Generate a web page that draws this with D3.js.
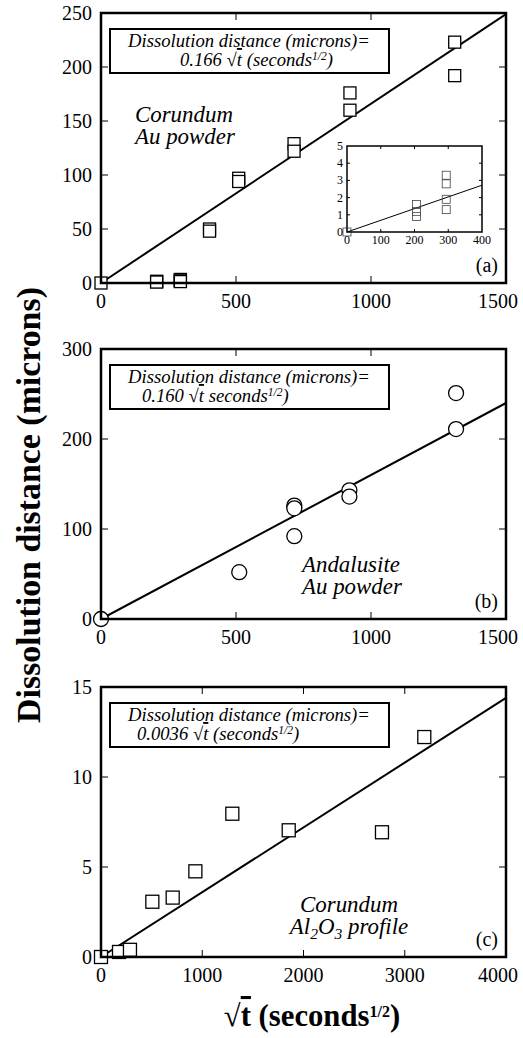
<!DOCTYPE html>
<html>
<head>
<meta charset="utf-8">
<script src="https://cdn.jsdelivr.net/npm/d3@7/dist/d3.min.js"></script>
<style>
  html, body { margin: 0; padding: 0; background: #fff; }
  svg { display: block; }
</style>
</head>
<body>
<svg id="chart" width="523" height="1038"></svg>
<script>
// Panel (a): corundum, Au powder marker
const corundumAuX = [0, 206, 206, 206, 294, 294, 294, 294, 402, 402, 510, 510, 715, 715, 922, 922, 1310, 1310];
const corundumAuY = [0, 1.6, 1.2, 0.9, 3.3, 2.8, 1.9, 1.3, 50, 48, 97, 94, 129, 122, 176, 160, 223, 192];
const corundumAuSlope = 0.166;
const insetSlope = 0.0068;

// Panel (b): andalusite, Au powder marker
const andalusiteX = [0, 512, 716, 716, 716, 920, 920, 1315, 1315];
const andalusiteY = [0, 52, 126, 123, 92, 143, 136, 251, 211];
const andalusiteSlope = 0.160;

// Panel (c): corundum, Al2O3 profile
const corundumAlX = [0, 178, 286, 507, 708, 932, 1297, 1854, 2775, 3193];
const corundumAlY = [0, 0.28, 0.4, 3.07, 3.3, 4.76, 7.96, 7.04, 6.93, 12.22];
const corundumAlSlope = 0.0036;

// Axis ticks
const xTicksAB = [0, 500, 1000, 1500];
const xTicksC = [0, 1000, 2000, 3000, 4000];
const yTicksA = [0, 50, 100, 150, 200, 250];
const yTicksB = [0, 100, 200, 300];
const yTicksC = [0, 5, 10, 15];
const insetXTicks = [0, 100, 200, 300, 400];
const insetYTicks = [0, 1, 2, 3, 4, 5];

// Text
const equationLead = "Dissolution distance (microns)=";
const coefA = "0.166", coefB = "0.160", coefC = "0.0036";
const yTitle = "Dissolution distance (microns)";

const SERIF = '"Liberation Serif", "Times New Roman", serif';
const svg = d3.select("#chart");
const L = 101, R = 506, H = 270;

function addText(parent) {
  return parent.append("text").style("font-family", SERIF).attr("fill", "#000");
}

// scale a text's font size so that it spans the given width
function fitWidth(sel, width) {
  const fs = parseFloat(sel.attr("font-size"));
  const w = sel.node().getComputedTextLength();
  const nfs = fs * width / w;
  sel.attr("font-size", nfs);
  return nfs;
}

function frameTicks(g, x, y, xt, yt, tickLen) {
  const [x0, x1] = x.range();
  const [y0, y1] = y.range();
  const t = g.append("g").attr("stroke", "#000").attr("stroke-width", 1);
  t.append("g").selectAll("line").data(xt.slice(1, -1)).join("line")
    .attr("x1", d => x(d)).attr("x2", d => x(d)).attr("y1", y0).attr("y2", y0 - tickLen);
  t.append("g").selectAll("line").data(xt.slice(1, -1)).join("line")
    .attr("x1", d => x(d)).attr("x2", d => x(d)).attr("y1", y1).attr("y2", y1 + tickLen);
  t.append("g").selectAll("line").data(yt.slice(1, -1)).join("line")
    .attr("x1", x0).attr("x2", x0 + tickLen).attr("y1", d => y(d)).attr("y2", d => y(d));
  t.append("g").selectAll("line").data(yt.slice(1, -1)).join("line")
    .attr("x1", x1).attr("x2", x1 - tickLen).attr("y1", d => y(d)).attr("y2", d => y(d));
}

let labelSize = null;

function panel(opts) {
  const g = svg.append("g");
  const x = d3.scaleLinear().domain(opts.xDomain).range([L, R]);
  const y = d3.scaleLinear().domain(opts.yDomain).range([opts.top + H, opts.top]);

  frameTicks(g, x, y, opts.xTicks, opts.yTicks, 7);

  // tick labels
  const last = opts.xTicks[opts.xTicks.length - 1];
  const xl = g.append("g");
  opts.xTicks.forEach(d => {
    addText(xl).attr("x", d === last ? 518 : x(d)).attr("y", opts.top + H + 25)
      .attr("text-anchor", d === last ? "end" : "middle")
      .attr("font-size", 20).text(d);
  });
  const yl = g.append("g");
  opts.yTicks.forEach(d => {
    addText(yl).attr("x", L - 9).attr("y", y(d) + 7)
      .attr("text-anchor", "end").attr("font-size", 20).text(d);
  });

  // fit line
  const xEnd = opts.xDomain[1];
  g.append("line")
    .attr("x1", x(0)).attr("y1", y(0))
    .attr("x2", x(xEnd)).attr("y2", y(opts.slope * xEnd))
    .attr("stroke", "#000").attr("stroke-width", 2);

  // equation box
  const bx = 110, by = opts.top + 16, bw = 279, bh = 44;
  g.append("rect").attr("x", bx).attr("y", by).attr("width", bw).attr("height", bh)
    .attr("fill", "#fff").attr("stroke", "#000").attr("stroke-width", 2);
  const t1 = addText(g).attr("x", 249).attr("y", by + 18)
    .attr("text-anchor", "middle").attr("font-style", "italic").attr("font-size", 17)
    .text(equationLead);
  const eqSize = fitWidth(t1, 242);
  const t2 = addText(g).attr("x", opts.eqX).attr("y", by + 37)
    .attr("font-style", "italic").attr("font-size", eqSize);
  t2.append("tspan").text(opts.coef + " √");
  t2.append("tspan").style("text-decoration", "overline").text("t");
  t2.append("tspan").text(opts.paren ? " (seconds" : " seconds");
  t2.append("tspan").attr("font-size", eqSize * 0.62).attr("dy", -6).text("1/2");
  t2.append("tspan").attr("dy", 6).text(")");

  // markers
  const pts = d3.zip(opts.xs, opts.ys);
  if (opts.marker === "circle") {
    g.append("g").selectAll("circle").data(pts).join("circle")
      .attr("cx", d => x(d[0])).attr("cy", d => y(d[1])).attr("r", 7.5)
      .attr("fill", "#fff").attr("stroke", "#000").attr("stroke-width", 1.3);
  } else {
    const s = opts.size;
    g.append("g").selectAll("rect").data(pts).join("rect")
      .attr("x", d => x(d[0]) - s / 2).attr("y", d => y(d[1]) - s / 2)
      .attr("width", s).attr("height", s)
      .attr("fill", "#fff").attr("stroke", "#000").attr("stroke-width", 1.3);
  }

  // frame
  g.append("rect").attr("x", L).attr("y", opts.top).attr("width", R - L).attr("height", H)
    .attr("fill", "none").attr("stroke", "#000").attr("stroke-width", 2.5);

  // sample labels, one text per line
  if (labelSize === null) {
    const probe = addText(svg).attr("font-style", "italic").attr("font-size", 20).text("Corundum");
    labelSize = fitWidth(probe, 98);
    probe.remove();
  }
  opts.labels.forEach((ln, i) => {
    const lab = addText(g).attr("font-style", "italic").attr("font-size", labelSize)
      .attr("text-anchor", opts.labelAnchor)
      .attr("x", opts.labelX).attr("y", opts.labelY + i * 22);
    ln.forEach(part => {
      const p = lab.append("tspan").text(part.t);
      if (part.sub) p.attr("font-size", labelSize * 0.68).attr("dy", 5);
      if (part.up) p.attr("dy", -5);
    });
  });

  // panel letter
  addText(g).attr("x", 498).attr("y", opts.top + H - 11)
    .attr("text-anchor", "end").attr("font-size", 20).text(opts.letter);

  return { g, x, y };
}

const pa = panel({
  top: 13, xDomain: [0, 1500], yDomain: [0, 250], xTicks: xTicksAB, yTicks: yTicksA,
  slope: corundumAuSlope, coef: coefA, paren: true, eqX: 180,
  xs: corundumAuX, ys: corundumAuY, marker: "square", size: 12,
  labels: [[{ t: "Corundum" }], [{ t: "Au powder" }]], labelX: 135, labelY: 122, labelAnchor: "start",
  letter: "(a)"
});

// inset of panel (a): the first few hundred root-seconds
(function () {
  const g = pa.g.append("g");
  const ix = d3.scaleLinear().domain([0, 400]).range([347, 482]);
  const iy = d3.scaleLinear().domain([0, 5]).range([232, 146]);
  g.append("rect").attr("x", 347).attr("y", 146).attr("width", 135).attr("height", 86)
    .attr("fill", "#fff").attr("stroke", "none");
  frameTicks(g, ix, iy, insetXTicks, insetYTicks, 3);
  g.append("line").attr("x1", ix(0)).attr("y1", iy(0))
    .attr("x2", ix(400)).attr("y2", iy(insetSlope * 400))
    .attr("stroke", "#000").attr("stroke-width", 1);
  const pts = d3.zip(corundumAuX, corundumAuY).filter(d => d[0] < 400 && d[1] < 5);
  g.append("g").selectAll("rect").data(pts).join("rect")
    .attr("x", d => ix(d[0]) - 4).attr("y", d => iy(d[1]) - 4)
    .attr("width", 8).attr("height", 8)
    .attr("fill", "none").attr("stroke", "#444").attr("stroke-width", 0.8);
  g.append("rect").attr("x", 347).attr("y", 146).attr("width", 135).attr("height", 86)
    .attr("fill", "none").attr("stroke", "#000").attr("stroke-width", 1.5);
  insetXTicks.forEach(d => {
    addText(g).attr("x", ix(d)).attr("y", 244).attr("text-anchor", "middle")
      .attr("font-size", 12).text(d);
  });
  insetYTicks.forEach(d => {
    addText(g).attr("x", 343).attr("y", iy(d) + 4).attr("text-anchor", "end")
      .attr("font-size", 12).text(d);
  });
})();

panel({
  top: 349, xDomain: [0, 1500], yDomain: [0, 300], xTicks: xTicksAB, yTicks: yTicksB,
  slope: andalusiteSlope, coef: coefB, paren: false, eqX: 142,
  xs: andalusiteX, ys: andalusiteY, marker: "circle",
  labels: [[{ t: "Andalusite" }], [{ t: "Au powder" }]], labelX: 302, labelY: 572, labelAnchor: "start",
  letter: "(b)"
});

panel({
  top: 687, xDomain: [0, 4000], yDomain: [0, 15], xTicks: xTicksC, yTicks: yTicksC,
  slope: corundumAlSlope, coef: coefC, paren: true, eqX: 137,
  xs: corundumAlX, ys: corundumAlY, marker: "square", size: 13,
  labels: [[{ t: "Corundum" }], [{ t: "Al" }, { t: "2", sub: true }, { t: "O", up: true }, { t: "3", sub: true }, { t: " profile", up: true }]],
  labelX: 349, labelY: 912, labelAnchor: "middle",
  letter: "(c)"
});

// shared axis titles
const yt = addText(svg)
  .attr("transform", "translate(40,505) rotate(-90)")
  .attr("text-anchor", "middle").attr("font-weight", "bold").attr("font-size", 28)
  .text(yTitle);
fitWidth(yt, 436);

const xt = addText(svg).attr("x", 312).attr("y", 1026)
  .attr("text-anchor", "middle").attr("font-weight", "bold").attr("font-size", 26);
xt.append("tspan").text("√");
xt.append("tspan").style("text-decoration", "overline").text("t");
xt.append("tspan").text(" (seconds");
xt.append("tspan").attr("font-size", 16).attr("dy", -9).text("1/2");
xt.append("tspan").attr("dy", 9).text(")");
fitWidth(xt, 180);
</script>
</body>
</html>
